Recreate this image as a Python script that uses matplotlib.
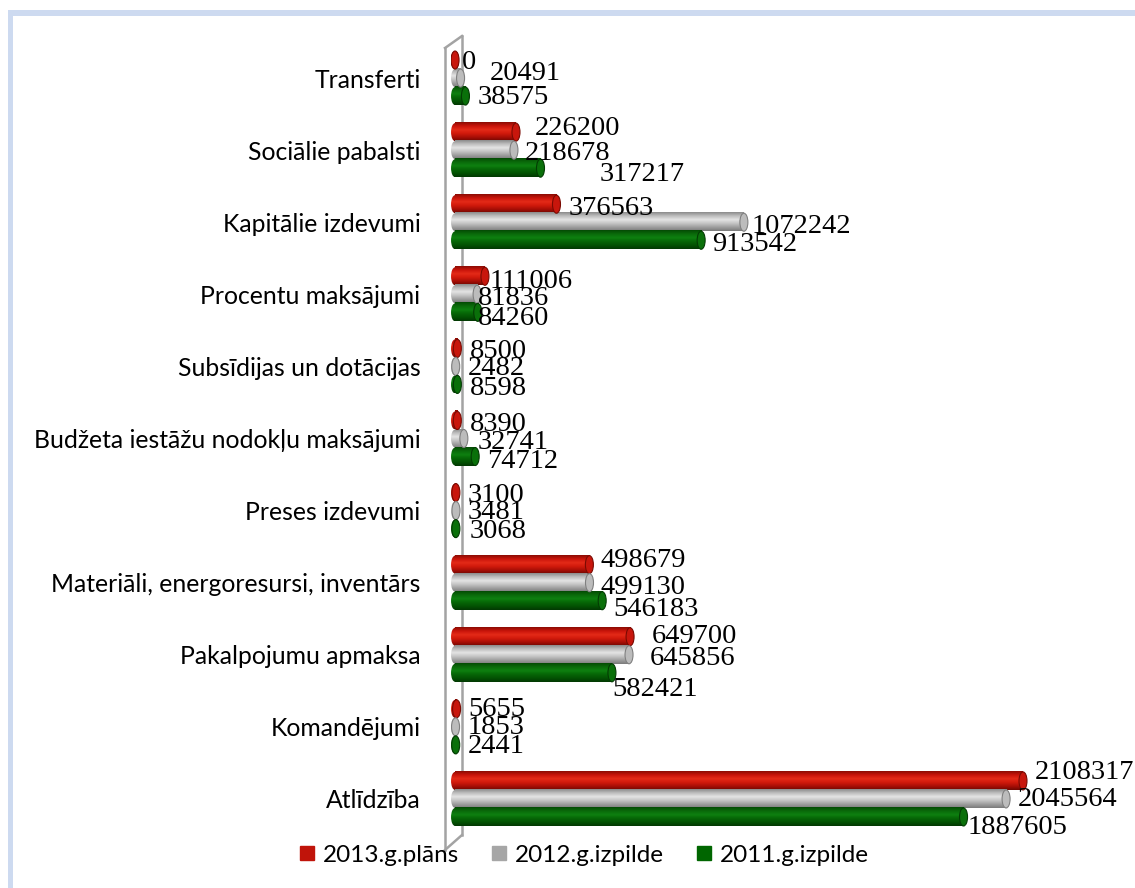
import numpy as np
import matplotlib
matplotlib.use("Agg")
import matplotlib.pyplot as plt
from matplotlib.patches import Ellipse, Rectangle
from matplotlib.lines import Line2D
from matplotlib.colors import LinearSegmentedColormap

# ---------------- data ----------------
categories = ["Transferti", "Sociālie pabalsti", "Kapitālie izdevumi",
              "Procentu maksājumi", "Subsīdijas un dotācijas",
              "Budžeta iestāžu nodokļu maksājumi", "Preses izdevumi",
              "Materiāli, energoresursi, inventārs", "Pakalpojumu apmaksa",
              "Komandējumi", "Atlīdzība"]
series_names = ["2013.g.plāns", "2012.g.izpilde", "2011.g.izpilde"]
plan_2013 = [0, 226200, 376563, 111006, 8500, 8390, 3100, 498679, 649700, 5655, 2108317]
izpilde_2012 = [20491, 218678, 1072242, 81836, 2482, 32741, 3481, 499130, 645856, 1853, 2045564]
izpilde_2011 = [38575, 317217, 913542, 84260, 8598, 74712, 3068, 546183, 582421, 2441, 1887605]

# label nudges in pixels (dx right, dy down), per category, per series
label_dx = [[3, 25, 8], [15, 7, 55], [8, 4, 7], [1, -3, -4], [9, 8, 9], [9, 10, 8],
            [8, 8, 10], [7, 7, 7], [18, 17, -4], [8, 8, 8], [8, 8, 0]]
label_dy = [[2, -5, 1], [-4, 3, 6], [4, 4, 4], [5, 4, 6], [3, 2, 4], [4, 4, 5],
            [3, 2, 3], [-4, 5, 9], [0, 4, 17], [1, 1, 2], [-8, 1, 11]]

# ---------------- styling ----------------
W, H = 1135, 888
fig = plt.figure(figsize=(W / 100, H / 100), dpi=100)
fig.patch.set_facecolor("white")

XMIN, XMAX = -15000, 2500000
ax_left_px, ax_right_px = 451, 1128.5
ax_top_px, ax_bot_px = 42, 835
ax = fig.add_axes([ax_left_px / W, 1 - ax_bot_px / H,
                   (ax_right_px - ax_left_px) / W, (ax_bot_px - ax_top_px) / H])
ax.patch.set_visible(False)
for s in ax.spines.values():
    s.set_visible(False)

px_per_unit = (ax_right_px - ax_left_px) / (XMAX - XMIN)
cap_w = 8 / px_per_unit

cmaps = [
    LinearSegmentedColormap.from_list("r", ["#8a0c04", "#c8140a", "#e42a18", "#d11a0c", "#a80e06", "#6e0802"]),
    LinearSegmentedColormap.from_list("g", ["#8a8a8a", "#bdbdbd", "#e4e4e4", "#c4c4c4", "#9e9e9e", "#7a7a7a"]),
    LinearSegmentedColormap.from_list("gr", ["#044a04", "#0a6a0a", "#0e8010", "#066606", "#035203", "#023802"]),
]
cap_faces = ["#c8160c", "#bcbcbc", "#0a700a"]
cap_edges = ["#7a0a02", "#808080", "#033c03"]
legend_colors = ["#c0140a", "#a6a6a6", "#006600"]

grad = np.linspace(0, 1, 128).reshape(-1, 1)
n = len(categories)
bar_h = 0.25
series = [plan_2013, izpilde_2012, izpilde_2011]
offsets = [bar_h, 0.0, -bar_h]


def draw_bar(y, v, cmap, cface, cedge):
    # left (back) cap
    e = Ellipse((0, y), cap_w, bar_h, transform=ax.transData)
    im = ax.imshow(grad, extent=[-cap_w / 2, cap_w / 2, y - bar_h / 2, y + bar_h / 2],
                   cmap=cmap, aspect="auto", interpolation="bilinear", zorder=2)
    im.set_clip_path(e)
    if v > 0:
        ax.imshow(grad, extent=[0, v, y - bar_h / 2, y + bar_h / 2],
                  cmap=cmap, aspect="auto", interpolation="bilinear", zorder=2)
    ax.add_patch(Ellipse((v, y), cap_w, bar_h, facecolor=cface, edgecolor=cedge,
                         lw=0.8, zorder=3))


for i, cat in enumerate(categories):
    yc = n - 1 - i
    for j in range(3):
        v = series[j][i]
        y = yc + offsets[j]
        draw_bar(y, v, cmaps[j], cap_faces[j], cap_edges[j])
        ax.annotate(f"{v}", xy=(v + cap_w / 2, y),
                    xytext=(label_dx[i][j], -label_dy[i][j]), textcoords="offset pixels",
                    ha="left", va="center", fontsize=20.5, family="Liberation Serif",
                    color="black", zorder=5, annotation_clip=False)

ax.set_xlim(XMIN, XMAX)
ax.set_ylim(-0.5, n - 0.5)
ax.set_xticks([])
ax.set_yticks(range(n - 1, -1, -1))
ax.set_yticklabels(categories, fontsize=17.8, family="Lato")
ax.tick_params(axis="y", length=0, pad=22)

# 3D-ish wall outline
wall_col = "#a3a3a3"
def fx(px):
    return px / W
def fy(py):
    return 1 - py / H
for (x0, y0, x1, y1) in [(445, 48, 445, 850), (462, 36, 462, 835),
                         (445, 48, 462, 36), (445, 850, 462, 835)]:
    fig.add_artist(Line2D([fx(x0), fx(x1)], [fy(y0), fy(y1)], transform=fig.transFigure,
                          color=wall_col, lw=1.8, zorder=-1))

# frame bands
fig.add_artist(Rectangle((fx(8), 0), 5 / W, fy(10), transform=fig.transFigure,
                         facecolor="#cddaf0", edgecolor="none", zorder=-2))
fig.add_artist(Rectangle((fx(8), fy(16)), 1 - fx(8), 6 / H, transform=fig.transFigure,
                         facecolor="#cddaf0", edgecolor="none", zorder=-2))

handles = [Line2D([], [], marker="s", linestyle="none", markersize=10,
                  markerfacecolor=c, markeredgecolor=c) for c in legend_colors]
fig.legend(handles, series_names, loc="center", bbox_to_anchor=(584 / W, fy(855)),
           ncol=3, frameon=False, prop={"family": "Lato", "size": 17.5},
           handlelength=0.7, handletextpad=0.3, columnspacing=1.3)

fig.savefig("out.png", dpi=100)
